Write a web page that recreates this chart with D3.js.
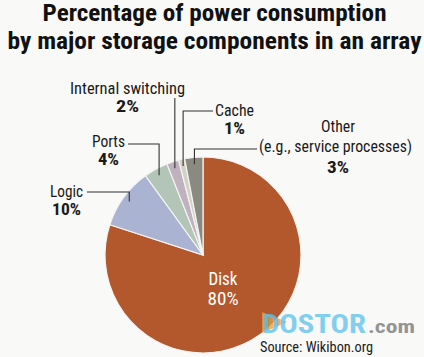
<!DOCTYPE html>
<html><head><meta charset="utf-8">
<script src="https://cdn.jsdelivr.net/npm/d3@7"></script>
<style>
html,body{margin:0;padding:0;background:#f9f9f8;}
svg{display:block;}
text{font-family:"Liberation Sans Narrow","Roboto Condensed","Arial Narrow","Liberation Sans",Arial,sans-serif;font-stretch:condensed;}
</style></head>
<body><svg id="c" width="424" height="357"></svg>
<script>
// ---- data ----
const titleLines = ["Percentage of power consumption", "by major storage components in an array"];
const categories = ["Disk", "Logic", "Ports", "Internal switching", "Cache", "Other"];
const values = [80, 10, 4, 2, 1, 3];
const subLabels = ["", "", "", "", "", "(e.g., service processes)"];
const colors = ["#b3582c", "#aab3d1", "#b3c5b6", "#bfb2be", "#d4d2c4", "#8b8a80"];
const source = "Source: Wikibon.org";

// ---- layout ----
const W = 424, H = 357;
const cx = 203, cy = 255, R = 98;
const svg = d3.select("#c");
svg.append("rect").attr("width", W).attr("height", H).attr("fill", "#f9f9f8");

// title
const titleSpec = [{y: 21, w: 344}, {y: 49, w: 414}];
svg.selectAll("text.title").data(titleLines).join("text")
  .attr("class", "title")
  .attr("x", 214.5).attr("y", (d, i) => titleSpec[i].y)
  .attr("text-anchor", "middle")
  .attr("font-size", 24).attr("font-weight", "bold").attr("fill", "#111")
  .attr("textLength", (d, i) => titleSpec[i].w).attr("lengthAdjust", "spacingAndGlyphs")
  .text(d => d);

// pie
const data = categories.map((c, i) => ({cat: c, value: values[i], sub: subLabels[i], color: colors[i]}));
const pie = d3.pie().sort(null).value(d => d.value);
const arcs = pie(data);
const arc = d3.arc().innerRadius(0).outerRadius(R);
const g = svg.append("g").attr("transform", `translate(${cx},${cy})`);
g.selectAll("path").data(arcs).join("path")
  .attr("d", arc).attr("fill", d => d.data.color)
  .attr("stroke", "#f4f4f4").attr("stroke-width", 1.2);

// Disk label inside
const disk = arcs[0];
g.append("text").attr("x", 20).attr("y", 30).attr("text-anchor", "middle")
  .attr("font-size", 18).attr("fill", "#fff")
  .attr("textLength", 29).attr("lengthAdjust", "spacingAndGlyphs")
  .text(disk.data.cat);
g.append("text").attr("x", 20).attr("y", 50).attr("text-anchor", "middle")
  .attr("font-size", 18).attr("fill", "#fff")
  .attr("textLength", 31).attr("lengthAdjust", "spacingAndGlyphs")
  .text(disk.data.value + "%");

// outside labels: block center x, name baseline, name width, pct width, leader y, leader end x
const outside = {
  "Logic": {x: 66.5, y: 197, w: 33, pw: 29, ly: 192, lx: 87},
  "Ports": {x: 108.5, y: 147, w: 33, pw: 21, ly: 144, lx: 128},
  "Internal switching": {x: 127.5, y: 94, w: 115, pw: 23, ly: 98, lx: null},
  "Cache": {x: 234.5, y: 116, w: 39, pw: 21, ly: 111, lx: 213},
  "Other": {x: 338, y: 132, w: 34, pw: 22, ly: 149, lx: 257}
};
const lineArc = d3.arc().innerRadius(R * 0.93).outerRadius(R * 0.93);
arcs.slice(1).forEach(a => {
  const o = outside[a.data.cat];
  const [px, py] = lineArc.centroid(a);
  const ex = cx + px, ey = cy + py;
  let pts = [[ex, ey], [ex, o.ly]];
  if (o.lx !== null) pts.push([o.lx, o.ly]);
  svg.append("path").attr("d", d3.line()(pts))
    .attr("fill", "none").attr("stroke", "#333").attr("stroke-width", 1.1);
  svg.append("text").attr("x", o.x).attr("y", o.y).attr("text-anchor", "middle")
    .attr("font-size", 16).attr("fill", "#1a1a1a")
    .attr("textLength", o.w).attr("lengthAdjust", "spacingAndGlyphs")
    .text(a.data.cat);
  let py2 = o.y + 18;
  if (a.data.sub) {
    svg.append("text").attr("x", 335.5).attr("y", o.y + 20).attr("text-anchor", "middle")
      .attr("font-size", 16).attr("fill", "#1a1a1a")
      .attr("textLength", 153).attr("lengthAdjust", "spacingAndGlyphs")
      .text(a.data.sub);
    py2 = o.y + 41;
  }
  svg.append("text").attr("x", o.x).attr("y", py2).attr("text-anchor", "middle")
    .attr("font-size", 16).attr("font-weight", "bold").attr("fill", "#1a1a1a")
    .attr("textLength", o.pw).attr("lengthAdjust", "spacingAndGlyphs")
    .text(a.data.value + "%");
});

// watermark
const wm = svg.append("g").attr("opacity", 0.9);
wm.append("path").attr("d", "M262,312 L287,322 L262,333 Z").attr("fill", "#f29a3a").attr("opacity", 0.85);
wm.append("text").attr("x", 262).attr("y", 333).attr("font-size", 25).attr("font-weight", "bold")
  .attr("fill", "#5ec3ee").attr("opacity", 0.85)
  .attr("textLength", 104).attr("lengthAdjust", "spacingAndGlyphs").text("DOSTOR");
wm.append("text").attr("x", 368).attr("y", 333).attr("font-size", 18).attr("font-weight", "bold")
  .attr("fill", "#8a8a8a").attr("textLength", 47).attr("lengthAdjust", "spacingAndGlyphs").text(".com");
svg.append("text").attr("x", 260).attr("y", 352).attr("font-size", 14).attr("fill", "#1a1a1a")
  .attr("textLength", 113).attr("lengthAdjust", "spacingAndGlyphs").text(source);
</script></body></html>
